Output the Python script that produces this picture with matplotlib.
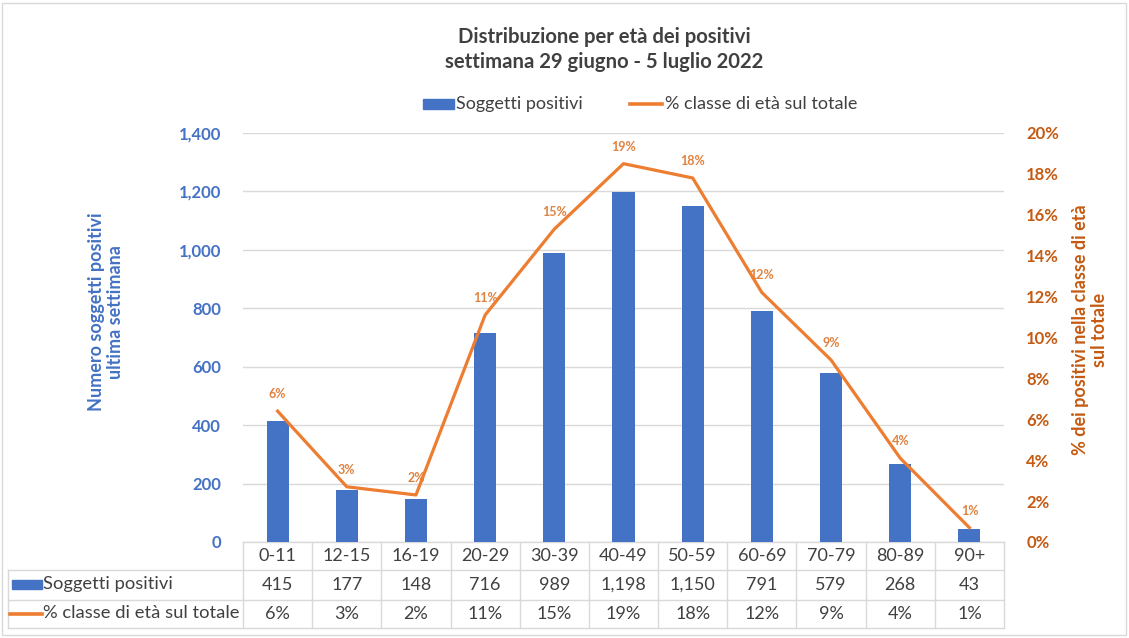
import numpy as np
import matplotlib.pyplot as plt
from matplotlib.transforms import blended_transform_factory
from matplotlib.patches import Rectangle
from matplotlib.lines import Line2D

plt.rcParams['font.family'] = ['Lato', 'DejaVu Sans']

# data
categories = ['0-11', '12-15', '16-19', '20-29', '30-39', '40-49',
              '50-59', '60-69', '70-79', '80-89', '90+']
positivi = [415, 177, 148, 716, 989, 1198, 1150, 791, 579, 268, 43]
perc = [6.4, 2.7, 2.3, 11.1, 15.3, 18.5, 17.8, 12.2, 8.9, 4.1, 0.7]
perc_labels = ['6%', '3%', '2%', '11%', '15%', '19%', '18%', '12%', '9%', '4%', '1%']
left_ticks = [0, 200, 400, 600, 800, 1000, 1200, 1400]
right_ticks = [0, 2, 4, 6, 8, 10, 12, 14, 16, 18, 20]

BLUE = '#4472C4'
ORANGE = '#ED7D31'
DARKOR = '#C55A11'
LABOR = '#E0823F'
GRID = '#D9D9D9'
TXT = '#404040'

W, H = 1129, 638
fig = plt.figure(figsize=(W / 100, H / 100), dpi=100)
ax = fig.add_axes([243 / W, 1 - 542 / H, (1004 - 243) / W, (542 - 133) / H])

x = np.arange(len(categories))
ax.bar(x, positivi, width=0.32, color=BLUE, zorder=3)
ax.set_xlim(-0.5, len(categories) - 0.5)
ax.set_ylim(0, 1400)
ax.set_yticks(left_ticks)
ax.set_yticklabels(['{:,}'.format(t) for t in left_ticks], color=BLUE,
                   fontsize=12, fontweight='bold')
ax.tick_params(axis='y', length=0, pad=16)
ax.set_xticks([])
ax.grid(axis='y', color=GRID, lw=1, zorder=0)
for s in ax.spines.values():
    s.set_visible(False)
fig.text(106 / W, 1 - 312 / H, 'Numero soggetti positivi\nultima settimana',
         color=BLUE, fontsize=13, fontweight='bold', rotation=90,
         ha='center', va='center', multialignment='center')

ax2 = ax.twinx()
ax2.plot(x, perc, color=ORANGE, lw=2.3, zorder=4)
ax2.set_ylim(0, 20)
ax2.set_yticks(right_ticks)
ax2.set_yticklabels(['{}%'.format(t) for t in right_ticks], color=DARKOR,
                    fontsize=12, fontweight='bold')
ax2.tick_params(axis='y', length=0, pad=16)
for s in ax2.spines.values():
    s.set_visible(False)
fig.text(1090 / W, 1 - 330 / H, '% dei positivi nella classe di età\nsul totale',
         color=DARKOR, fontsize=13, fontweight='bold', rotation=90,
         ha='center', va='center', multialignment='center')
for xi, p, lab in zip(x, perc, perc_labels):
    ax2.annotate(lab, (xi, p), xytext=(0, 8), textcoords='offset points',
                 ha='center', va='bottom', color=LABOR, fontsize=9, fontweight='bold')

# title and legend
fig.text(604 / W, 1 - 37 / H, 'Distribuzione per età dei positivi', ha='center',
         va='center', fontsize=14.6, fontweight='bold', color=TXT)
fig.text(604 / W, 1 - 62 / H, 'settimana 29 giugno - 5 luglio 2022', ha='center',
         va='center', fontsize=14.6, fontweight='bold', color=TXT)
fig.patches.append(Rectangle((423 / W, 1 - 109 / H), 31 / W, 10 / H,
                             transform=fig.transFigure, color=BLUE))
fig.text(456 / W, 1 - 104 / H, 'Soggetti positivi', va='center', fontsize=13,
         color=TXT)
fig.lines.append(Line2D([630 / W, 662 / W], [1 - 104 / H] * 2,
                        transform=fig.transFigure, color=ORANGE, lw=2.6))
fig.text(665 / W, 1 - 104 / H, '% classe di età sul totale', va='center',
         fontsize=13, color=TXT)

# data table below the chart
tr = blended_transform_factory(ax.transData, fig.transFigure)
def fy(py):
    return 1 - py / H

rows_y = [542, 570, 600, 628]
n = len(categories)
xl = -0.5
xr = n - 0.5
x_lab = xl - 235 / ((1004 - 243) / n)  # left edge of label column, data units
for i, py in enumerate(rows_y):
    x0 = xl if i == 0 else x_lab
    ax.plot([x0, xr], [fy(py)] * 2, transform=tr, color=GRID, lw=1, clip_on=False)
for k in range(n + 1):
    ax.plot([k - 0.5] * 2, [fy(542), fy(628)], transform=tr, color=GRID, lw=1,
            clip_on=False)
ax.plot([x_lab] * 2, [fy(570), fy(628)], transform=tr, color=GRID, lw=1,
        clip_on=False)

for xi, c, v, lab in zip(x, categories, positivi, perc_labels):
    ax.text(xi, fy(556), c, transform=tr, ha='center', va='center', fontsize=13,
            color=TXT)
    ax.text(xi, fy(585), '{:,}'.format(v), transform=tr, ha='center',
            va='center', fontsize=13, color=TXT)
    ax.text(xi, fy(614), lab, transform=tr, ha='center', va='center',
            fontsize=13, color=TXT)

fig.patches.append(Rectangle((12 / W, fy(589)), 30 / W, 9 / H,
                             transform=fig.transFigure, color=BLUE))
fig.text(43 / W, fy(584), 'Soggetti positivi', va='center', fontsize=13.2,
         color=TXT)
fig.lines.append(Line2D([10 / W, 42 / W], [fy(614)] * 2,
                        transform=fig.transFigure, color=ORANGE, lw=2.6))
fig.text(43 / W, fy(613), '% classe di età sul totale', va='center',
         fontsize=13.2, color=TXT)

# light frame around the chart
fig.patches.append(Rectangle((2 / W, 3 / H), 1124 / W, 632 / H, fill=False,
                             edgecolor=GRID, lw=1, transform=fig.transFigure))

fig.savefig('out.png', dpi=100)
